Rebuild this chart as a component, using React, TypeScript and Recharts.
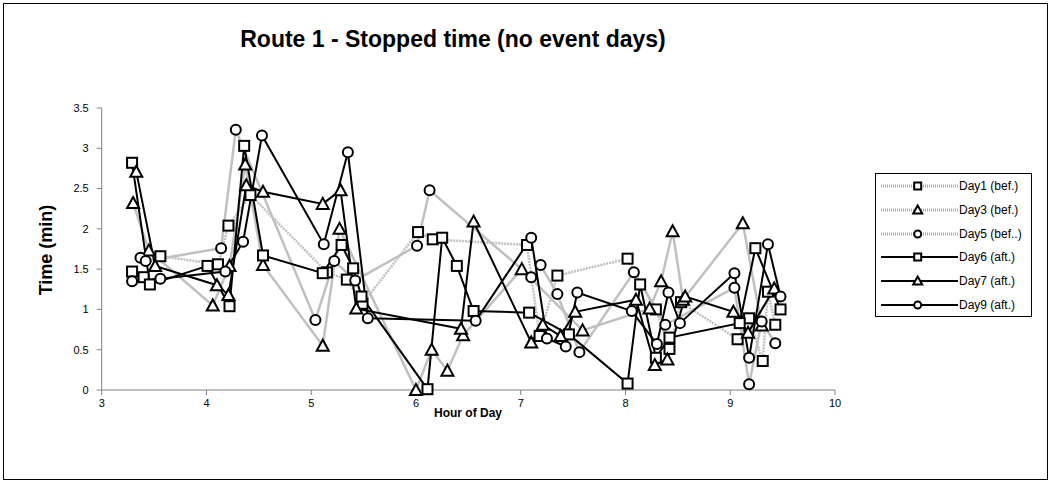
import { LineChart, Line, XAxis, YAxis } from "recharts";

// hour of day / stopped time (min)
const day1Hours = [3.29, 3.4, 3.56, 4.11, 4.21, 4.42, 5.15, 5.34, 5.49, 6.02, 6.16, 7.06, 7.18, 7.35, 8.02, 8.29, 8.42, 8.53, 9.07, 9.18, 9.31, 9.36, 9.43];
const day1Times = [1.47, 1.4, 1.66, 1.56, 2.04, 2.42, 1.46, 1.37, 1.07, 1.96, 1.87, 1.8, 0.67, 1.42, 1.63, 1.0, 0.51, 1.09, 0.63, 0.89, 0.36, 1.22, 0.81];

const day3Hours = [3.3, 3.45, 4.06, 4.22, 4.37, 4.54, 5.11, 5.27, 6.0, 6.15, 6.3, 6.45, 7.01, 7.59, 8.23, 8.34, 8.45, 8.55, 9.12, 9.3];
const day3Times = [2.32, 1.73, 1.05, 1.54, 2.8, 1.55, 0.55, 2.0, 0.0, 0.5, 0.24, 0.68, 1.5, 0.74, 1.01, 1.35, 1.97, 1.12, 2.07, 0.8];

const day5Hours = [3.37, 3.42, 4.14, 4.28, 5.04, 5.22, 5.42, 6.01, 6.13, 7.1, 7.19, 7.35, 7.56, 8.08, 8.38, 9.04, 9.18, 9.3, 9.43];
const day5Times = [1.64, 1.6, 1.76, 3.23, 0.87, 1.6, 1.36, 1.79, 2.48, 1.4, 1.55, 1.19, 0.47, 1.46, 0.81, 1.27, 0.07, 0.85, 0.58];

const day6Hours = [3.29, 3.46, 4.01, 4.22, 4.36, 4.54, 5.11, 5.29, 5.4, 5.48, 6.11, 6.25, 6.39, 6.55, 7.08, 7.46, 8.02, 8.14, 8.29, 8.42, 9.09, 9.24, 9.48];
const day6Times = [2.82, 1.31, 1.54, 1.04, 3.03, 1.67, 1.45, 1.8, 1.51, 1.16, 0.01, 1.89, 1.54, 0.98, 0.96, 0.69, 0.08, 1.31, 0.4, 0.65, 0.83, 1.76, 1.0];

const day7Hours = [3.33, 3.51, 4.1, 4.21, 4.38, 4.54, 5.11, 5.28, 5.43, 6.43, 6.55, 7.1, 7.21, 7.38, 7.52, 8.1, 8.28, 8.4, 8.57, 9.03, 9.17, 9.42];
const day7Times = [2.71, 1.54, 1.3, 1.18, 2.54, 2.46, 2.31, 2.48, 1.01, 0.76, 2.09, 0.59, 0.81, 0.67, 0.97, 1.12, 0.31, 0.38, 1.16, 0.97, 0.71, 1.26];

const day9Hours = [3.29, 3.56, 4.18, 4.35, 4.53, 5.12, 5.35, 5.54, 6.57, 7.1, 7.25, 7.43, 7.54, 8.06, 8.3, 8.41, 8.52, 9.04, 9.18, 9.36, 9.48];
const day9Times = [1.35, 1.38, 1.47, 1.84, 3.16, 1.81, 2.95, 0.89, 0.86, 1.89, 0.64, 0.54, 1.21, 0.98, 0.57, 1.21, 0.83, 1.45, 0.4, 1.81, 1.16];

const xTicks = [3, 4, 5, 6, 7, 8, 9, 10];
const yTicks = [0, 0.5, 1, 1.5, 2, 2.5, 3, 3.5];

const toPoints = (hours: number[], times: number[]) => hours.map((h, i) => ({ h, v: times[i] }));

type Shape = "square" | "triangle" | "circle";

const marker = (shape: Shape, cx: number, cy: number, s: number, key?: string) => {
  if (shape === "square")
    return <rect key={key} x={cx - s} y={cy - s} width={s * 2} height={s * 2} fill="#fff" stroke="#000" strokeWidth={2} />;
  if (shape === "triangle")
    return (
      <polygon
        key={key}
        points={`${cx},${cy - s - 1} ${cx - s - 1},${cy + s} ${cx + s + 1},${cy + s}`}
        fill="#fff"
        stroke="#000"
        strokeWidth={2}
      />
    );
  return <circle key={key} cx={cx} cy={cy} r={s} fill="#fff" stroke="#000" strokeWidth={2} />;
};

const dotFor = (shape: Shape, name: string) => (p: any) => {
  if (p.cx == null || p.cy == null) return <g key={`${name}-${p.index}`} />;
  return marker(shape, p.cx, p.cy, 5, `${name}-${p.index}`);
};

const GRAY = "#c0c0c0";

const series = [
  { name: "Day1 (bef.)", data: toPoints(day1Hours, day1Times), shape: "square" as Shape, color: GRAY, dash: "2 1", width: 2.5 },
  { name: "Day3 (bef.)", data: toPoints(day3Hours, day3Times), shape: "triangle" as Shape, color: GRAY, dash: undefined, width: 2.5 },
  { name: "Day5 (bef..)", data: toPoints(day5Hours, day5Times), shape: "circle" as Shape, color: GRAY, dash: undefined, width: 2.5 },
  { name: "Day6 (aft.)", data: toPoints(day6Hours, day6Times), shape: "square" as Shape, color: "#000", dash: undefined, width: 2 },
  { name: "Day7 (aft.)", data: toPoints(day7Hours, day7Times), shape: "triangle" as Shape, color: "#000", dash: undefined, width: 2 },
  { name: "Day9 (aft.)", data: toPoints(day9Hours, day9Times), shape: "circle" as Shape, color: "#000", dash: undefined, width: 2 },
];

const font = "'Liberation Sans', Arial, sans-serif";

export default function App() {
  return (
    <div
      style={{
        position: "absolute",
        left: 3,
        top: 3,
        width: 1043,
        height: 475,
        border: "1px solid #000",
        background: "#fff",
        fontFamily: font,
      }}
    >
      <div
        style={{
          position: "absolute",
          left: 0,
          width: 898,
          top: 22,
          textAlign: "center",
          fontSize: 23,
          fontWeight: "bold",
        }}
      >
        Route 1 - Stopped time (no event days)
      </div>
      <div
        style={{
          position: "absolute",
          left: 42,
          top: 246,
          transform: "translate(-50%, -50%) rotate(-90deg)",
          fontSize: 18,
          fontWeight: "bold",
          whiteSpace: "nowrap",
        }}
      >
        Time (min)
      </div>
      <div
        style={{
          position: "absolute",
          left: 364,
          width: 200,
          top: 402,
          textAlign: "center",
          fontSize: 12,
          fontWeight: "bold",
        }}
      >
        Hour of Day
      </div>

      <LineChart width={1043} height={475} margin={{ top: 104, right: 212, bottom: 59, left: 57.7 }}>
        <XAxis
          dataKey="h"
          type="number"
          domain={[3, 10]}
          ticks={xTicks}
          height={30}
          stroke="#808080"
          tickSize={5}
          tickMargin={4}
          tick={{ fill: "#000", fontSize: 11, fontFamily: font }}
        />
        <YAxis
          type="number"
          domain={[0, 3.5]}
          ticks={yTicks}
          width={40}
          stroke="#808080"
          tickSize={5}
          tickMargin={8}
          tick={{ fill: "#000", fontSize: 11, fontFamily: font }}
        />
        {series.map((s) => (
          <Line
            key={s.name}
            name={s.name}
            data={s.data}
            dataKey="v"
            type="linear"
            stroke={s.color}
            strokeWidth={s.width}
            strokeDasharray={s.dash}
            dot={dotFor(s.shape, s.name)}
            activeDot={false}
            isAnimationActive={false}
          />
        ))}
      </LineChart>

      <div
        style={{
          position: "absolute",
          left: 871,
          top: 169,
          width: 155,
          height: 142,
          border: "1px solid #000",
          background: "#fff",
        }}
      >
        {series.map((s, i) => (
          <div
            key={s.name}
            style={{ position: "absolute", left: 0, top: 2 + i * 23.8, height: 20, display: "flex", alignItems: "center" }}
          >
            <svg width={83} height={20}>
              <line
                x1={5}
                y1={10}
                x2={82}
                y2={10}
                stroke={s.color === GRAY ? "#a8a8a8" : "#000"}
                strokeWidth={s.color === GRAY ? 3 : 2}
                strokeDasharray={s.color === GRAY ? "1 1" : undefined}
              />
              {marker(s.shape, 41.7, 10, 3.5)}
            </svg>
            <span style={{ fontSize: 12, whiteSpace: "nowrap" }}>{s.name}</span>
          </div>
        ))}
      </div>
    </div>
  );
}
